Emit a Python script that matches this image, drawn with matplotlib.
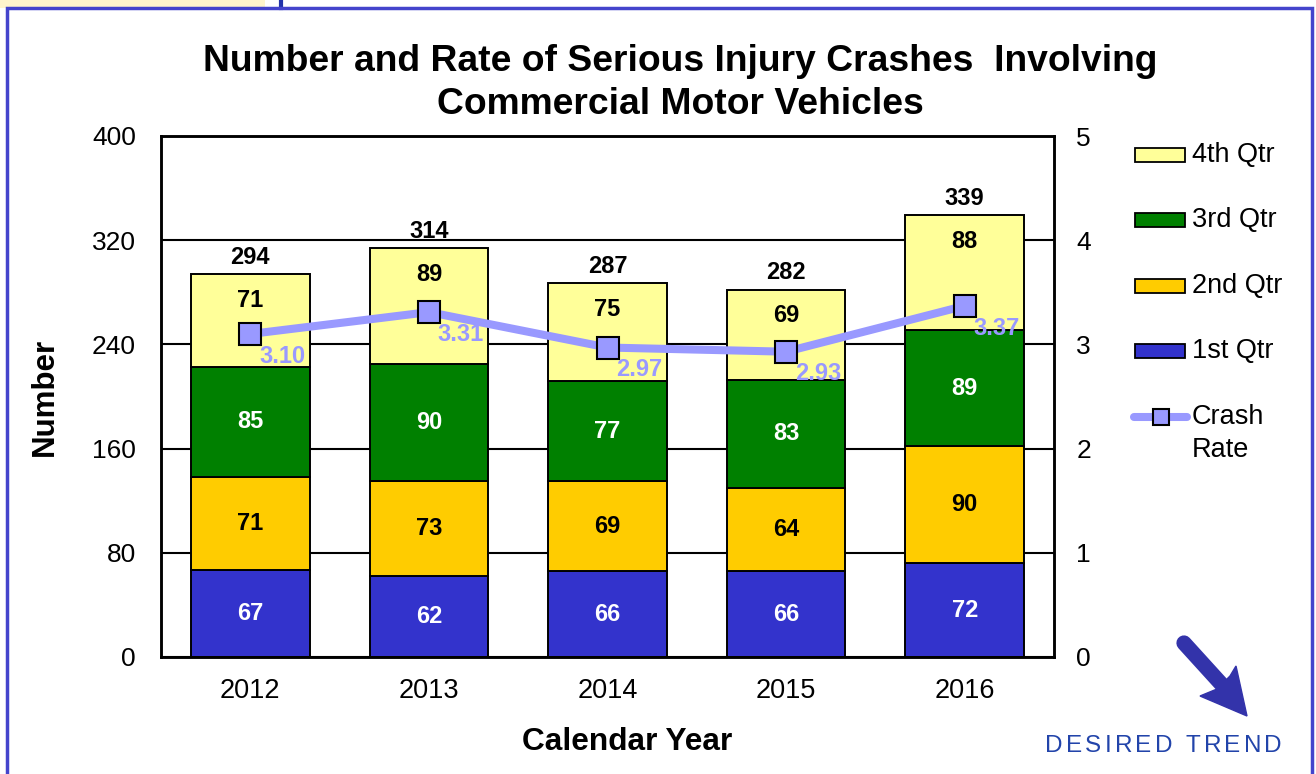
import matplotlib
matplotlib.use("Agg")
import matplotlib.pyplot as plt
from matplotlib.patches import Rectangle, Polygon
from matplotlib.lines import Line2D
import numpy as np

plt.rcParams['font.family'] = ['Liberation Sans', 'DejaVu Sans']

years = ["2012", "2013", "2014", "2015", "2016"]
q1 = [67, 62, 66, 66, 72]
q2 = [71, 73, 69, 64, 90]
q3 = [85, 90, 77, 83, 89]
q4 = [71, 89, 75, 69, 88]
totals = [294, 314, 287, 282, 339]
rate = [3.10, 3.31, 2.97, 2.93, 3.37]
series_names = ["1st Qtr", "2nd Qtr", "3rd Qtr", "4th Qtr"]

colors = ["#3333CC", "#FFCC00", "#008000", "#FFFF99"]
label_colors = ["white", "black", "white", "black"]
rate_color = "#9999FF"

W, H = 1316, 774
fig = plt.figure(figsize=(W / 100, H / 100), dpi=100, facecolor="white")

# decorative page elements
fig.patches.append(Rectangle((0, 1 - 8 / H), 265 / W, 8 / H, transform=fig.transFigure,
                             facecolor="#FFF5CC", edgecolor="none", zorder=-5))
fig.add_artist(Line2D([281 / W, 281 / W], [1, 1 - 8 / H], transform=fig.transFigure,
                      color="#2233AA", lw=3, zorder=-5))
fig.patches.append(Rectangle((7 / W, -0.05), (1312 - 7) / W, 1 - 8 / H + 0.05,
                             transform=fig.transFigure, facecolor="none",
                             edgecolor="#4444CC", lw=2.5, zorder=-5))

ax = fig.add_axes([161 / W, 1 - 657 / H, (1054 - 161) / W, (657 - 136) / H])
x = np.arange(len(years))
width = 0.665
bottom = np.zeros(len(years))
data = [q1, q2, q3, q4]
for i, (vals, c) in enumerate(zip(data, colors)):
    vals = np.array(vals)
    ax.bar(x, vals, width, bottom=bottom, color=c, edgecolor="black", linewidth=1.4,
           zorder=3, label=series_names[i])
    for xi, b, v in zip(x, bottom, vals):
        if i == 3:
            ypos = b + v - 20
        else:
            ypos = b + v / 2
        ax.text(xi, ypos, str(v), ha="center", va="center", fontsize=17,
                fontweight="bold", color=label_colors[i], zorder=5)
    bottom = bottom + vals

for xi, t in zip(x, totals):
    ax.text(xi, t + 13, str(t), ha="center", va="center", fontsize=17,
            fontweight="bold", color="black", zorder=5)

ax.set_ylim(0, 400)
ax.set_xlim(-0.5, 4.5)
ax.set_yticks([0, 80, 160, 240, 320, 400])
ax.set_xticks(x)
ax.set_xticklabels(years)
ax.tick_params(axis="y", length=0, labelsize=19, pad=18)
ax.tick_params(axis="x", length=0, labelsize=19.5, pad=15)
ax.yaxis.grid(True, color="black", lw=1.5, zorder=0)
ax.set_axisbelow(True)
for s in ax.spines.values():
    s.set_linewidth(1.8)

ax.set_ylabel("Number", fontsize=22.5, fontweight="bold")
ax.set_xlabel("Calendar Year", fontsize=22.8, fontweight="bold")
ax.yaxis.set_label_coords((45 - 161) / 893, 0.5)
ax.yaxis.label.set_va("center")
ax.xaxis.set_label_coords((627 - 161) / 893, (657 - 742) / 521)
ax.xaxis.label.set_va("center")

ax2 = ax.twinx()
ax2.set_ylim(0, 5)
ax2.set_yticks([0, 1, 2, 3, 4, 5])
ax2.tick_params(axis="y", length=0, labelsize=19, pad=16)
ax2.plot(x, rate, color=rate_color, lw=5.8, marker="s", markersize=16,
         markerfacecolor=rate_color, markeredgecolor="black", markeredgewidth=1.5,
         zorder=6)
for xi, r in zip(x, rate):
    ax2.annotate(f"{r:.2f}", (xi, r), xytext=(23, -16), textcoords="offset points",
                 ha="center", va="center", fontsize=17, fontweight="bold",
                 color=rate_color, zorder=7)
for s in ax2.spines.values():
    s.set_linewidth(1.8)

fig.text(680 / W, 1 - 83 / H,
         "Number and Rate of Serious Injury Crashes  Involving\nCommercial Motor Vehicles",
         ha="center", va="center", fontsize=26.8, fontweight="bold", linespacing=1.26)

# overlay axes in pixel coordinates for legend and trend arrow
ax3 = fig.add_axes([0, 0, 1, 1], facecolor="none")
ax3.set_xlim(0, W)
ax3.set_ylim(H, 0)
ax3.axis("off")

legend_rows = [("4th Qtr", colors[3], 155), ("3rd Qtr", colors[2], 220),
               ("2nd Qtr", colors[1], 286), ("1st Qtr", colors[0], 351)]
for name, c, yc in legend_rows:
    ax3.add_patch(Rectangle((1135, yc - 7), 50, 14, facecolor=c, edgecolor="black", lw=1.3))
    ax3.text(1192, yc, name, ha="left", va="center", fontsize=19.5)
ax3.plot([1134, 1187], [417, 417], color=rate_color, lw=5.8, solid_capstyle="round")
ax3.plot([1161], [417], marker="s", markersize=12, color=rate_color,
         markeredgecolor="black", markeredgewidth=1.5)
ax3.text(1192, 417, "Crash", ha="left", va="center", fontsize=19.5)
ax3.text(1192, 450, "Rate", ha="left", va="center", fontsize=19.5)

# desired trend arrow
arrow_color = "#3333AA"
ax3.plot([1184, 1224], [643, 687], color=arrow_color, lw=11, solid_capstyle="round")
ax3.add_patch(Polygon([(1247, 716), (1200, 696), (1217, 689), (1230, 676), (1236, 666)],
                      closed=True, facecolor=arrow_color, edgecolor=arrow_color, lw=1))

# letter-spaced caption
caption = "DESIRED TREND"
renderer = fig.canvas.get_renderer()
cap_size = 17.5
cap_kw = dict(fontsize=cap_size, color="#2244AA", va="center", ha="left")
widths = []
for ch in caption:
    if ch == " ":
        widths.append(cap_size * 1.389 * 0.278)
    else:
        t = ax3.text(0, 0, ch, **cap_kw)
        widths.append(t.get_window_extent(renderer).width)
        t.remove()
x0, x1 = 1045, 1282
gap = (x1 - x0 - sum(widths)) / (len(caption) - 1)
cx = x0
for ch, w in zip(caption, widths):
    if ch != " ":
        ax3.text(cx, 746, ch, **cap_kw)
    cx += w + gap

fig.savefig("out.png", dpi=100)
